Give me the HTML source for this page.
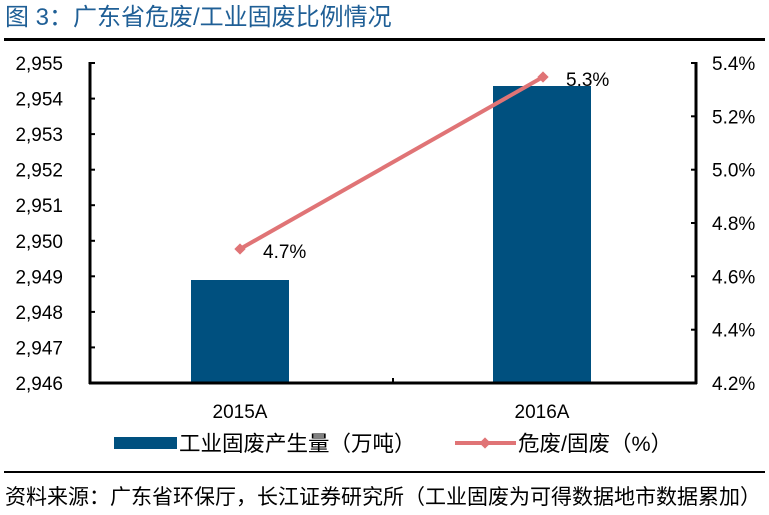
<!DOCTYPE html>
<html><head><meta charset="utf-8"><style>
body{margin:0;background:#fff;}
svg{display:block;font-family:"Liberation Sans","Noto Sans CJK SC",sans-serif;}
</style></head><body>
<svg width="769" height="515" viewBox="0 0 769 515">
<text x="5" y="25" font-size="24" fill="#1f5f96">图 3：广东省危废/工业固废比例情况</text>
<rect x="4" y="38" width="761" height="3" fill="#000"/>
<rect x="191" y="280" width="98" height="103" fill="#00507f"/>
<rect x="493" y="86" width="98" height="297" fill="#00507f"/>
<g stroke="#000" stroke-width="3" fill="none">
<line x1="90" y1="62" x2="90" y2="384"/>
<line x1="696" y1="62" x2="696" y2="384"/>
<line x1="89" y1="383" x2="697" y2="383"/>
</g>
<g stroke="#000" stroke-width="2">
<line x1="90" y1="63" x2="95" y2="63"/><line x1="90" y1="98.6" x2="95" y2="98.6"/><line x1="90" y1="134.1" x2="95" y2="134.1"/><line x1="90" y1="169.7" x2="95" y2="169.7"/><line x1="90" y1="205.2" x2="95" y2="205.2"/><line x1="90" y1="240.8" x2="95" y2="240.8"/><line x1="90" y1="276.3" x2="95" y2="276.3"/><line x1="90" y1="311.9" x2="95" y2="311.9"/><line x1="90" y1="347.4" x2="95" y2="347.4"/>
<line x1="691" y1="63" x2="696" y2="63"/><line x1="691" y1="116.3" x2="696" y2="116.3"/><line x1="691" y1="169.7" x2="696" y2="169.7"/><line x1="691" y1="223" x2="696" y2="223"/><line x1="691" y1="276.3" x2="696" y2="276.3"/><line x1="691" y1="329.7" x2="696" y2="329.7"/>
<line x1="393" y1="378" x2="393" y2="383"/>
</g>
<g font-size="19" fill="#000" text-anchor="end">
<text x="63" y="70">2,955</text><text x="63" y="105.6">2,954</text><text x="63" y="141.1">2,953</text><text x="63" y="176.7">2,952</text><text x="63" y="212.2">2,951</text><text x="63" y="247.8">2,950</text><text x="63" y="283.3">2,949</text><text x="63" y="318.9">2,948</text><text x="63" y="354.4">2,947</text><text x="63" y="390">2,946</text>
</g>
<g font-size="19" fill="#000">
<text x="712" y="70">5.4%</text><text x="712" y="123.3">5.2%</text><text x="712" y="176.7">5.0%</text><text x="712" y="230">4.8%</text><text x="712" y="283.3">4.6%</text><text x="712" y="336.7">4.4%</text><text x="712" y="390">4.2%</text>
</g>
<g font-size="19" fill="#000" text-anchor="middle">
<text x="240" y="418">2015A</text><text x="542" y="418">2016A</text>
</g>
<line x1="240" y1="249" x2="543" y2="77" stroke="#e07476" stroke-width="4"/>
<rect x="236" y="245" width="8" height="8" fill="#e07476" transform="rotate(45 240 249)"/>
<rect x="539" y="73" width="8" height="8" fill="#e07476" transform="rotate(45 543 77)"/>
<text x="263" y="258" font-size="19">4.7%</text>
<text x="566" y="86" font-size="19">5.3%</text>
<rect x="114" y="437" width="63" height="12" fill="#00507f"/>
<text x="179" y="451" font-size="21.5">工业固废产生量（万吨）</text>
<line x1="455" y1="443" x2="516" y2="443" stroke="#e07476" stroke-width="4"/>
<rect x="481" y="439" width="8" height="8" fill="#e07476" transform="rotate(45 485 443)"/>
<text x="518" y="451" font-size="21.5">危废/固废（%）</text>
<rect x="4" y="471" width="761" height="2" fill="#000"/>
<text x="5" y="504" font-size="21">资料来源：广东省环保厅，长江证券研究所（工业固废为可得数据地市数据累加）</text>
</svg>
</body></html>
